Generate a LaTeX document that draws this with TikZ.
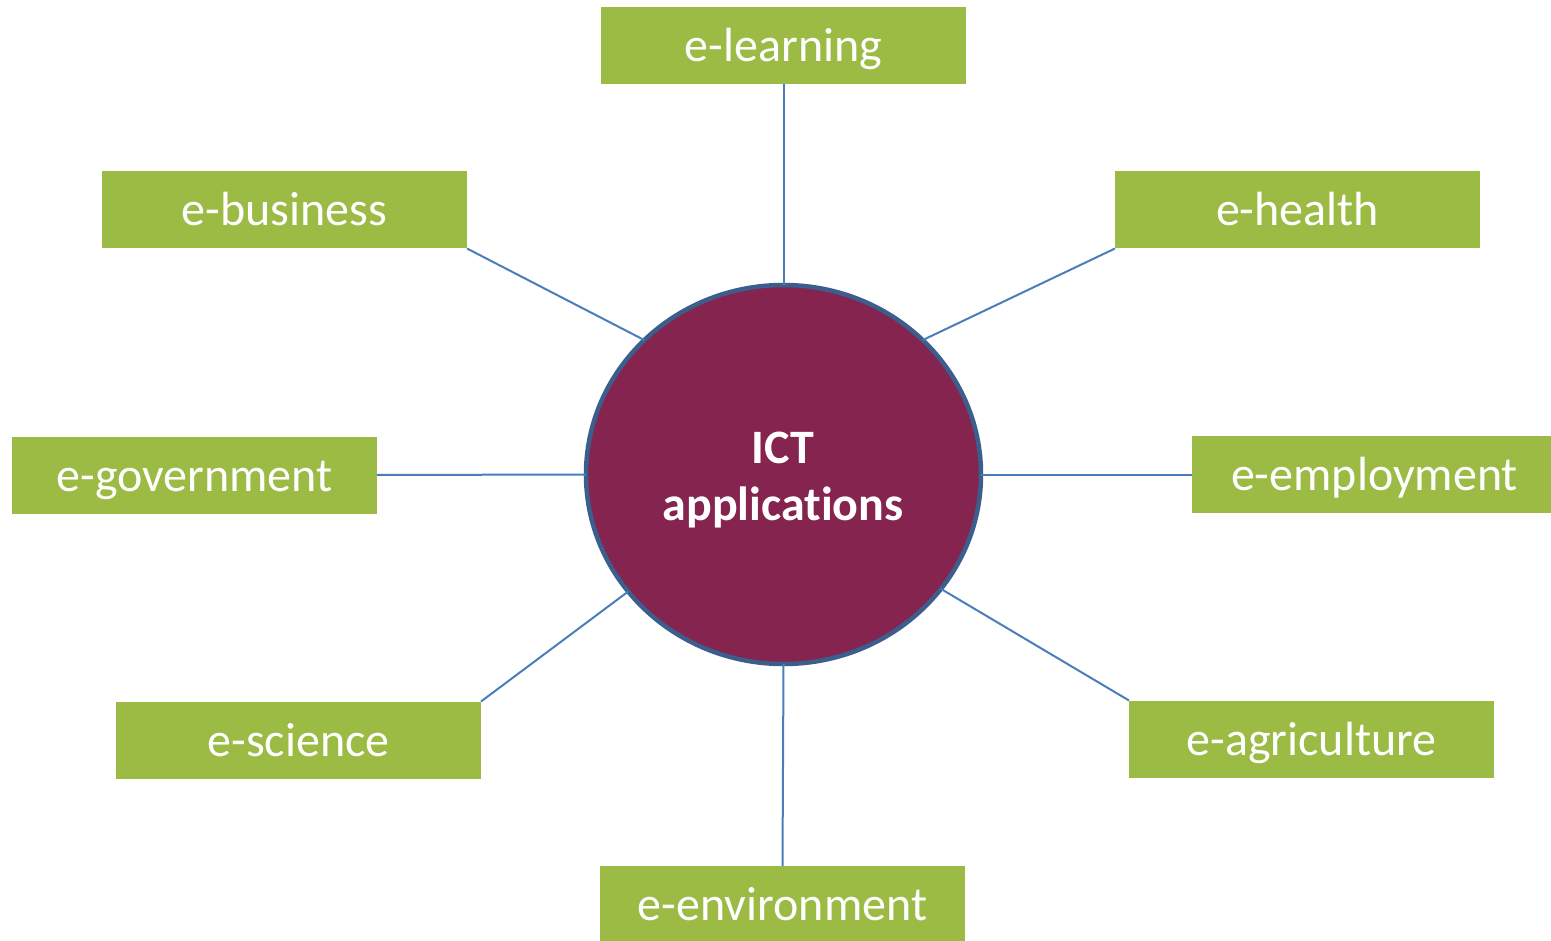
\documentclass[tikz,border=0pt]{standalone}
\usepackage{fontspec}
\setmainfont{Carlito}[Ligatures=NoCommon]
\usetikzlibrary{shapes.geometric}
\definecolor{boxgreen}{HTML}{9BBB45}
\definecolor{hubpurple}{HTML}{84244F}
\definecolor{hubborder}{HTML}{3B5E8C}
\definecolor{linkblue}{HTML}{4A7EBB}
\tikzset{
  appbox/.style={rectangle, fill=boxgreen, minimum width=365pt, minimum height=77pt, inner sep=0pt, outer sep=0pt,
    text=white, font=\fontsize{48}{57}\selectfont, text height=44pt, text depth=12pt},
  hub/.style={ellipse, fill=hubpurple, draw=hubborder, line width=4.5pt, minimum width=395pt, minimum height=379pt, inner sep=0pt, outer sep=0pt},
  hubtext/.style={text=white, font=\bfseries\fontsize{48}{57}\selectfont, align=center, inner sep=0pt},
  link/.style={draw=linkblue, line width=2pt}
}
\begin{document}
\begin{tikzpicture}[x=1pt,y=-1pt]
\useasboundingbox (0,0) rectangle (1551,941);
\node[hub] (c) at (783.5,474.5) {};
\node[hubtext] (ct) at (783,480) {ICT\\applications};
\node[appbox] (learning) at (783.5,45.5) {e-learning};
\node[appbox] (business) at (284.5,210) {e-business};
\node[appbox] (health) at (1297.5,210) {e-health};
\node[appbox] (government) at (194.5,475) {e-government};
\node[appbox] (employment) at (1374.5,474.5) {e-employment};
\node[appbox] (science) at (298.5,740) {e-science};
\node[appbox] (agriculture) at (1311.5,739) {e-agriculture};
\node[appbox] (environment) at (782.5,904.5) {e-environment};
\draw[link] (learning.south) -- (c.north);
\draw[link] (business.south east) -- (c.136);
\draw[link] (health.south west) -- (c.44);
\draw[link] (government.east) -- (c.west);
\draw[link] (employment.west) -- (c.east);
\draw[link] (science.north east) -- (c.217);
\draw[link] (agriculture.north west) -- (c.324);
\draw[link] (environment.north) -- (c.south);
\end{tikzpicture}
\end{document}
